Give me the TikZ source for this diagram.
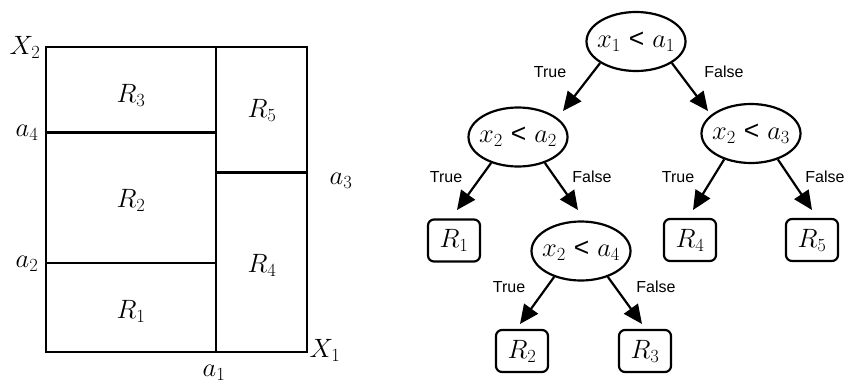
\RequirePackage{fix-cm}
\documentclass[tikz,border=0pt]{standalone}
\usepackage{fontspec}
\setsansfont{Liberation Sans}
\usetikzlibrary{arrows.meta,shapes.geometric}
\newcommand{\cond}[2]{\makebox[60pt][c]{$#1$ {\sffamily <} $#2$}}
\begin{document}
\begin{tikzpicture}[x=1pt,y=-1pt,
  frame/.style={line width=2.6pt},
  lbl/.style={font=\fontsize{26.5}{30}\selectfont, inner sep=0pt},
  test/.style={ellipse, draw, line width=2.2pt, minimum width=99pt,
    minimum height=59pt, inner sep=0pt, font=\fontsize{26.5}{30}\selectfont},
  leaf/.style={draw, rounded corners=6pt, line width=2.2pt, minimum width=52pt,
    minimum height=42pt, inner sep=0pt, font=\fontsize{26.5}{30}\selectfont},
  edge/.style={line width=2.2pt, -{Triangle[length=19pt,width=17pt]}},
  tf/.style={font=\sffamily\fontsize{16}{18}\selectfont, inner sep=0pt}]
\useasboundingbox (0,0) rectangle (849,383);

% partition of the feature space
\draw[frame] (46,47) rectangle (307,352);
\draw[frame] (216,47) -- (216,352);
\draw[frame] (46,132.5) -- (216,132.5);
\draw[frame] (46,263) -- (216,263);
\draw[frame] (216,172.5) -- (307,172.5);

\node[lbl] (lX2) at (25,47) {$X_2$};
\node[lbl] (la4) at (27,133) {$a_4$};
\node[lbl] (la2) at (27,264) {$a_2$};
\node[lbl] (la3) at (341,181) {$a_3$};
\node[lbl] (la1) at (214,373) {$a_1$};
\node[lbl] (lX1) at (325,350) {$X_1$};

\node[lbl] (rg3) at (131,95) {$R_3$};
\node[lbl] (rg5) at (262,110) {$R_5$};
\node[lbl] (rg2) at (131,200) {$R_2$};
\node[lbl] (rg4) at (262,265) {$R_4$};
\node[lbl] (rg1) at (131,311) {$R_1$};

% decision tree
\node[test] (root) at (636,41.5) {\cond{x_1}{a_1}};
\node[test] (n2) at (518,137) {\cond{x_2}{a_2}};
\node[test] (n3) at (751,133.5) {\cond{x_2}{a_3}};
\node[test] (n4) at (581,251) {\cond{x_2}{a_4}};

\node[leaf] (l1) at (454,240.5) {$R_1$};
\node[leaf] (l4) at (690,240) {$R_4$};
\node[leaf] (l5) at (812,240) {$R_5$};
\node[leaf] (l2) at (522,351) {$R_2$};
\node[leaf] (l3) at (645,351) {$R_3$};

\coordinate (t1) at (563,111);
\coordinate (t2) at (708,111);
\coordinate (t3) at (457,210);
\coordinate (t4) at (578,210);
\coordinate (t5) at (693,210);
\coordinate (t6) at (812,210);
\coordinate (t7) at (520,324);
\coordinate (t8) at (642,324);

\draw[edge] (root.211) -- (t1);
\draw[edge] (root.329) -- (t2);
\draw[edge] (n2.224) -- (t3);
\draw[edge] (n2.316) -- (t4);
\draw[edge] (n3.224) -- (t5);
\draw[edge] (n3.316) -- (t6);
\draw[edge] (n4.224) -- (t7);
\draw[edge] (n4.316) -- (t8);

\node[tf] (e1) at (550,72) {True};
\node[tf] (e2) at (724,72) {False};
\node[tf] (e3) at (446,177) {True};
\node[tf] (e4) at (592,177) {False};
\node[tf] (e5) at (678,177) {True};
\node[tf] (e6) at (825,177) {False};
\node[tf] (e7) at (509,287) {True};
\node[tf] (e8) at (656,287) {False};
\end{tikzpicture}
\end{document}
